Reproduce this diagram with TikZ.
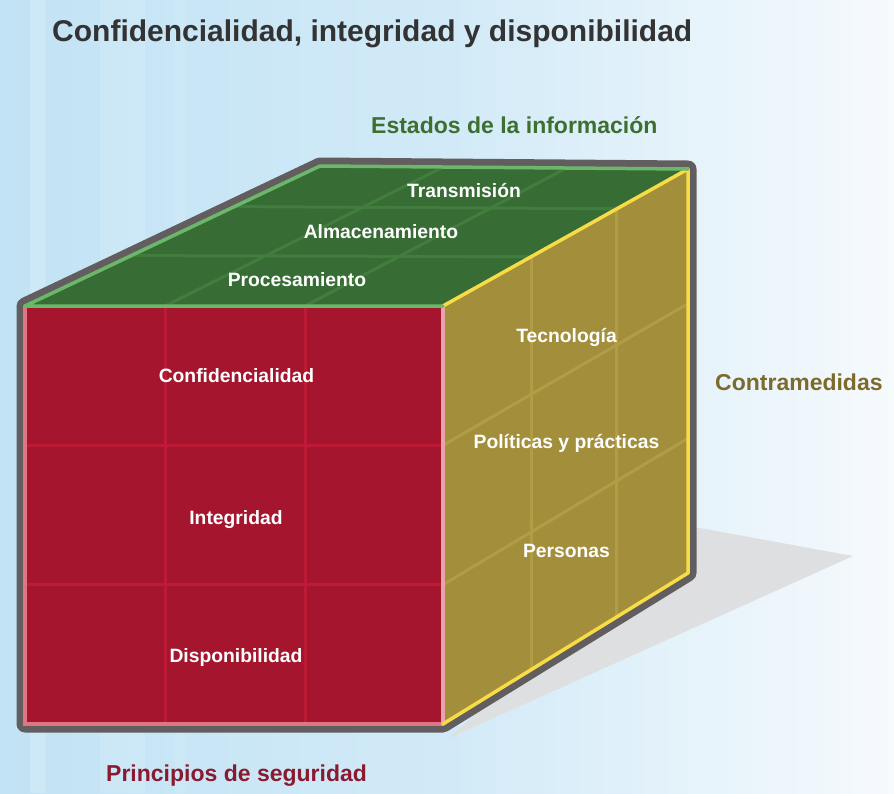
\documentclass[tikz,border=0pt]{standalone}
\usepackage{fontspec}
\setmainfont{Liberation Sans}
\usetikzlibrary{calc}
\definecolor{bgl}{HTML}{C2E3F5}
\definecolor{bgr}{HTML}{F6FAFD}
\definecolor{outl}{HTML}{625E60}
\definecolor{topgreen}{HTML}{376C34}
\definecolor{topgrid}{HTML}{417D3C}
\definecolor{greenedge}{HTML}{6CB86A}
\definecolor{frontred}{HTML}{A5152E}
\definecolor{redgrid}{HTML}{BC1A35}
\definecolor{pinkedge}{HTML}{E07684}
\definecolor{pinkright}{HTML}{E9A3AB}
\definecolor{olive}{HTML}{A38F3B}
\definecolor{olivegrid}{HTML}{B19D45}
\definecolor{yellowedge}{HTML}{F8DC45}
\definecolor{shadowgray}{HTML}{DEDFE1}
\definecolor{titlegray}{HTML}{333333}
\definecolor{capgreen}{HTML}{3D6F30}
\definecolor{capolive}{HTML}{7D6B2D}
\definecolor{capred}{HTML}{8A1A30}
\begin{document}
\begin{tikzpicture}[x=1pt,y=-1pt,
  lbl/.style={font=\bfseries\fontsize{19.3}{21}\selectfont, text=white, inner sep=0pt, anchor=base},
  capt/.style={font=\bfseries\fontsize{23}{25}\selectfont, inner sep=0pt, anchor=base west},
  gridline/.style={line width=3pt},
  edgeline/.style={line width=3.5pt, line cap=round}]
\useasboundingbox (0,0) rectangle (894,793);
\shade[left color=bgl, right color=bgr, middle color=bgl!70!bgr] (0,0) rectangle (894,793);
\fill[white, opacity=0.18] (30,0) rectangle (45,793);
\fill[white, opacity=0.12] (100,0) rectangle (145,793);
\fill[white, opacity=0.10] (175,0) rectangle (185,793);
% corners
\coordinate (FLT) at (25,306);
\coordinate (FRT) at (443,306);
\coordinate (BLT) at (320,166);
\coordinate (BRT) at (688,169);
\coordinate (FLB) at (25,724);
\coordinate (FRB) at (443,724);
\coordinate (BRB) at (688,573);
\coordinate (SH1) at (694,527);
\coordinate (SH2) at (853,556);
\coordinate (SH3) at (447,739);
% shadow
\fill[shadowgray] (SH1) -- (SH2) -- (SH3) -- cycle;
% dark outline
\draw[outl, fill=outl, line width=17pt, line join=round]
  (FLB) -- (FLT) -- (BLT) -- (BRT) -- (BRB) -- (FRB) -- cycle;
% faces
\fill[topgreen] (FLT) -- (FRT) -- (BRT) -- (BLT) -- cycle;
\fill[frontred] (FLT) rectangle (FRB);
\fill[olive] (FRT) -- (BRT) -- (BRB) -- (FRB) -- cycle;
% top grid
\draw[topgrid, gridline] ($(FLT)!0.36!(BLT)$) -- ($(FRT)!0.36!(BRT)$);
\draw[topgrid, gridline] ($(FLT)!0.71!(BLT)$) -- ($(FRT)!0.71!(BRT)$);
\draw[topgrid, gridline] ($(FLT)!0.335!(FRT)$) -- ($(BLT)!0.335!(BRT)$);
\draw[topgrid, gridline] ($(FLT)!0.67!(FRT)$) -- ($(BLT)!0.67!(BRT)$);
% front grid
\draw[redgrid, gridline] ($(FLT)!0.335!(FRT)$) -- ($(FLB)!0.335!(FRB)$);
\draw[redgrid, gridline] ($(FLT)!0.67!(FRT)$) -- ($(FLB)!0.67!(FRB)$);
\draw[redgrid, gridline] ($(FLT)!1/3!(FLB)$) -- ($(FRT)!1/3!(FRB)$);
\draw[redgrid, gridline] ($(FLT)!2/3!(FLB)$) -- ($(FRT)!2/3!(FRB)$);
% right grid
\draw[olivegrid, gridline] ($(FRT)!0.36!(BRT)$) -- ($(FRB)!0.36!(BRB)$);
\draw[olivegrid, gridline] ($(FRT)!0.71!(BRT)$) -- ($(FRB)!0.71!(BRB)$);
\draw[olivegrid, gridline] ($(FRT)!1/3!(FRB)$) -- ($(BRT)!1/3!(BRB)$);
\draw[olivegrid, gridline] ($(FRT)!2/3!(FRB)$) -- ($(BRT)!2/3!(BRB)$);
% edges
\draw[pinkedge, edgeline] (FLT) -- (FLB) -- (FRB);
\draw[pinkright, edgeline] (FRT) -- (FRB);
\draw[yellowedge, edgeline, line join=round] (FRT) -- (BRT) -- (BRB) -- (FRB);
\draw[greenedge, edgeline, line join=round] (FRT) -- (FLT) -- (BLT) -- (BRT);
% labels in faces
\node[lbl] (ltrans) at (464,197) {Transmisión};
\node[lbl] (lalm) at (381,238) {Almacenamiento};
\node[lbl] (lproc) at (297,286) {Procesamiento};
\node[lbl] (lconf) at (236.5,382) {Confidencialidad};
\node[lbl] (linteg) at (236,524) {Integridad};
\node[lbl] (ldisp) at (236,662) {Disponibilidad};
\node[lbl] (ltec) at (566.5,342) {Tecnología};
\node[lbl] (lpol) at (566.5,448) {Políticas y prácticas};
\node[lbl] (lpers) at (566.5,557) {Personas};
% captions
\node[font=\bfseries\fontsize{30}{32}\selectfont, text=titlegray, inner sep=0pt, anchor=base west] (title) at (52,41) {Confidencialidad, integridad y disponibilidad};
\node[capt, text=capgreen] (cestados) at (371,133) {Estados de la información};
\node[capt, text=capolive] (ccontra) at (715,390) {Contramedidas};
\node[capt, text=capred] (cprinc) at (106,781) {Principios de seguridad};
\end{tikzpicture}
\end{document}
